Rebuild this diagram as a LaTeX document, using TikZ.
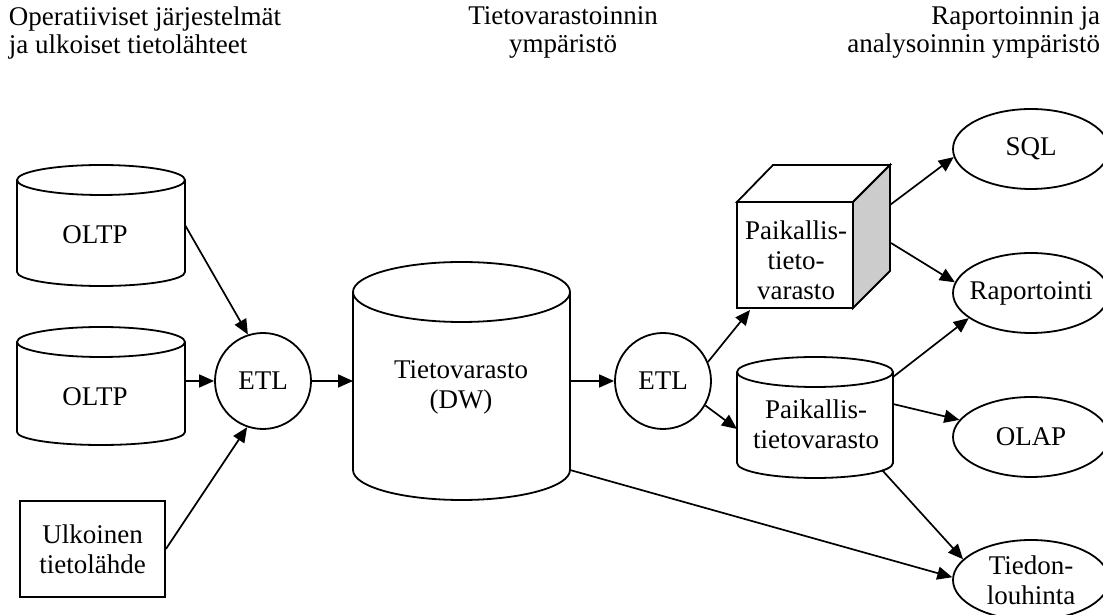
\documentclass[tikz,border=0pt]{standalone}
\usepackage{fontspec}
\setmainfont{Liberation Serif}
\usetikzlibrary{arrows.meta,shapes.geometric}

\begin{document}
\begin{tikzpicture}[x=1pt, y=1pt, line width=1.8pt,
  every node/.style={font=\fontsize{27}{30}\selectfont, align=center},
  nuoli/.style={-{Triangle[length=15pt,width=13pt]}, line width=1.7pt},
  ympyra/.style={circle, draw, fill=white, minimum size=96pt, inner sep=0pt},
  soikio/.style={ellipse, draw, fill=white, minimum width=156pt, minimum height=80pt, inner xsep=-14pt, inner ysep=-4pt},
  otsikko/.style={inner sep=0pt, font=\fontsize{27}{28}\selectfont}]

\useasboundingbox (0,0) rectangle (1103,615);
\clip (0,0) rectangle (1103,615);

% Otsikot ylhaalla
\node[otsikko, anchor=north west, align=left] (ots1) at (8,609) {Operatiiviset järjestelmät\\ja ulkoiset tietolähteet};
\node[otsikko, anchor=north] (ots2) at (563,609) {Tietovarastoinnin\\ympäristö};
\node[otsikko, anchor=north east, align=right] (ots3) at (1101,609) {Raportoinnin ja\\analysoinnin ympäristö};

% OLTP 1 (sylinteri)
\draw[fill=white] (17,435) -- (17,343) arc[start angle=180, end angle=360, x radius=84, y radius=14] -- (185,435);
\draw (101,435) ellipse[x radius=84, y radius=15];
\node (oltpa) at (95,380) {OLTP};
\coordinate (oltpa-o) at (185,390);

% OLTP 2 (sylinteri)
\draw[fill=white] (17,273) -- (17,183) arc[start angle=180, end angle=360, x radius=84, y radius=13] -- (185,273);
\draw (101,273) ellipse[x radius=84, y radius=15];
\node (oltpb) at (95,218) {OLTP};
\coordinate (oltpb-o) at (185,234);

% Ulkoinen tietolahde
\node[draw, minimum width=145pt, minimum height=96pt, inner sep=0pt] (ulk) at (92.5,66) {Ulkoinen\\tietolähde};

% ETL 1
\node[ympyra] (etl1) at (263,234) {ETL};

% Tietovarasto (DW)
\draw[fill=white] (353,323) -- (353,145) arc[start angle=180, end angle=360, x radius=108.5, y radius=30] -- (570,323);
\draw (461.5,323) ellipse[x radius=108.5, y radius=30];
\node (dw) at (461,228) {Tietovarasto\\(DW)};
\coordinate (dw-v) at (353,234);
\coordinate (dw-o) at (570,234);
\coordinate (dw-a) at (570,145);

% ETL 2
\node[ympyra] (etl2) at (663,234) {ETL};

% Paikallistietovarasto (kuutio)
\draw[fill=white] (737,307) rectangle (853,413);
\draw[fill=white] (737,413) -- (773,450) -- (890,450) -- (853,413) -- cycle;
\draw[fill=black!20] (853,307) -- (890,344) -- (890,450) -- (853,413) -- cycle;
\node (kuutio) at (796,355) {Paikallis-\\tieto-\\varasto};
\coordinate (kuutio-a) at (750,305);
\coordinate (kuutio-y) at (890,410);
\coordinate (kuutio-k) at (891,372);

% Paikallistietovarasto (sylinteri)
\draw[fill=white] (737,243) -- (737,152) arc[start angle=180, end angle=360, x radius=78, y radius=15] -- (893,243);
\draw (815,243) ellipse[x radius=78, y radius=15];
\node (paik) at (816,191) {Paikallis-\\tietovarasto};
\coordinate (paik-v) at (737,186);
\coordinate (paik-y) at (893,238);
\coordinate (paik-k) at (893,211);
\coordinate (paik-a) at (882,145);

% Raportointi ja analysointi
\node[soikio] (sql) at (1031,466) {SQL};
\node[soikio] (rap) at (1031,322) {Raportointi};
\node[soikio] (olap) at (1031,178) {OLAP};
\node[soikio] (tl) at (1031,35) {Tiedon-\\louhinta};

% Nuolet
\draw[nuoli] (oltpa-o) -- (etl1.108);
\draw[nuoli] (oltpb-o) -- (etl1);
\draw[nuoli] (ulk.east) -- (etl1.251);
\draw[nuoli] (etl1) -- (dw-v);
\draw[nuoli] (dw-o) -- (etl2);
\draw[nuoli] (etl2.23) -- (kuutio-a);
\draw[nuoli] (etl2.-30) -- (paik-v);
\draw[nuoli] (kuutio-y) -- (sql.186);
\draw[nuoli] (kuutio-k) -- (rap.172);
\draw[nuoli] (paik-y) -- (rap.202);
\draw[nuoli] (paik-k) -- (olap);
\draw[nuoli] (paik-a) -- (tl.163);
\draw[nuoli] (dw-a) -- (tl.178);

\end{tikzpicture}
\end{document}
